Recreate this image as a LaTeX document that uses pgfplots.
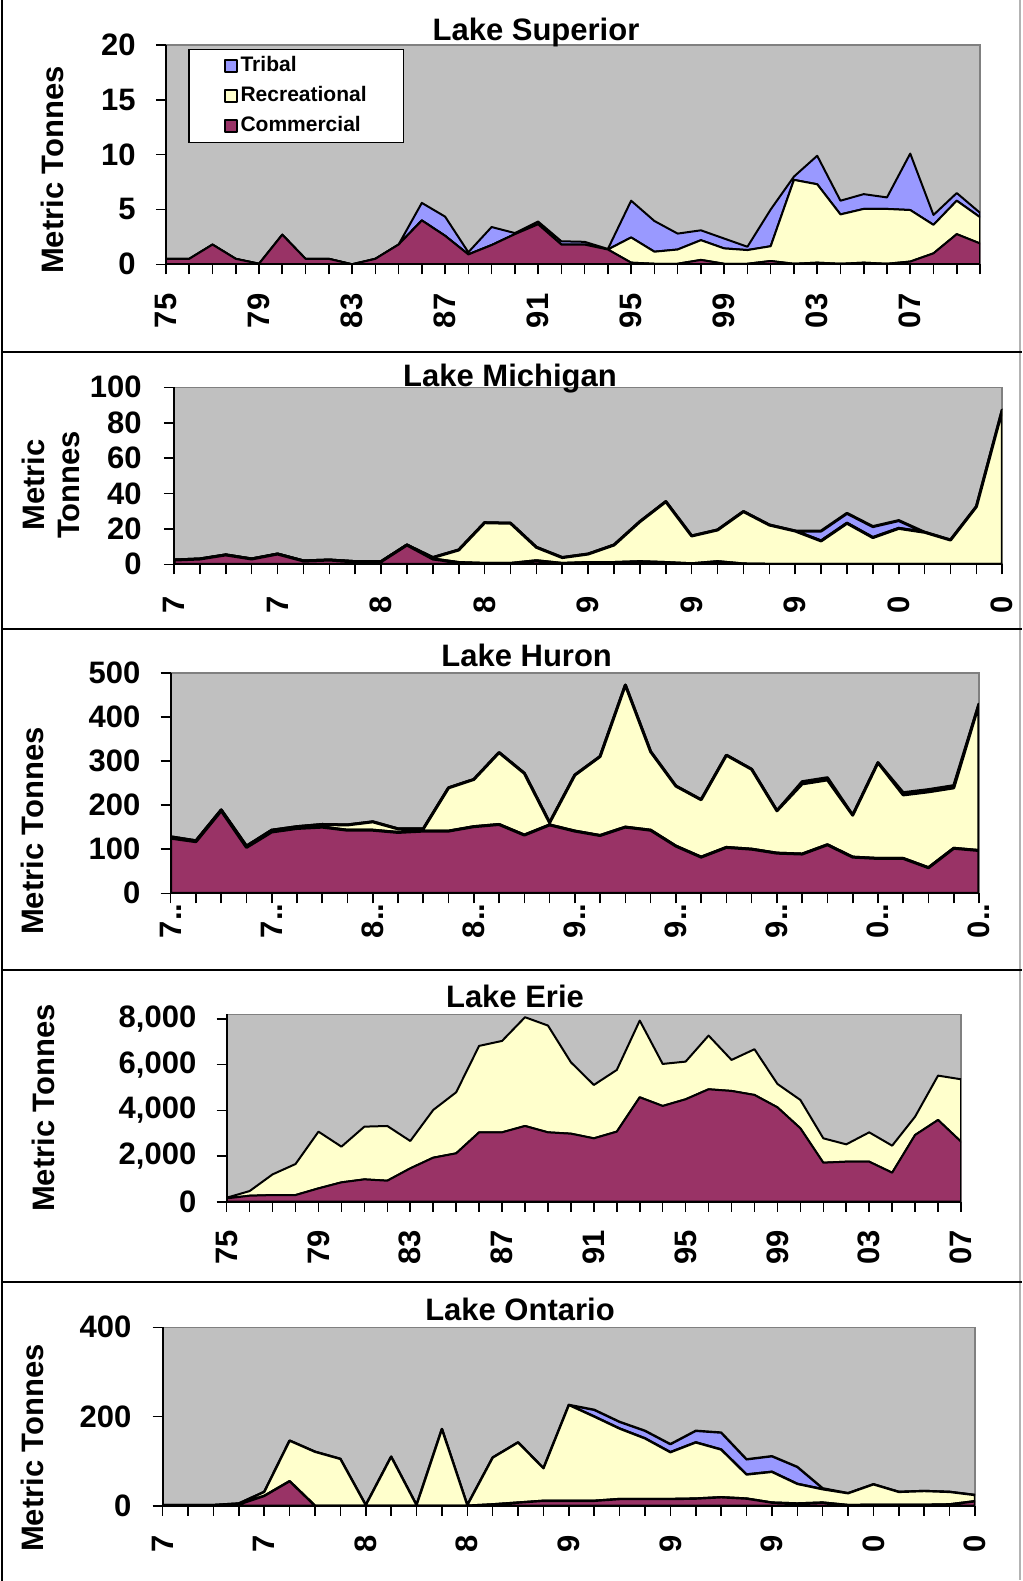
\documentclass[border=0pt]{standalone}
\usepackage{pgfplots}
\usepackage{pgfplotstable}
\pgfplotsset{compat=1.18}
\usepackage{fontspec}
\setmainfont{Liberation Sans}
\definecolor{bggray}{HTML}{C0C0C0}
\definecolor{framegray}{HTML}{808080}
\definecolor{tribal}{HTML}{9999FF}
\definecolor{recr}{HTML}{FFFFCC}
\definecolor{comm}{HTML}{993366}
\newcommand\bigf{\fontsize{15.5}{17.5}\selectfont\bfseries}
\newcommand\legf{\fontsize{10.5}{12}\selectfont\bfseries}

\pgfplotstableread{
x C R T
0 0.5 0 0
1 0.5 0 0
2 1.8 0 0
3 0.5 0 0
4 0.05 0 0
5 2.7 0 0
6 0.5 0 0
7 0.5 0 0
8 0 0 0
9 0.5 0 0
10 1.8 0 0
11 4.0 0 1.6
12 2.6 0 1.75
13 0.9 0 0.2
14 1.75 0 1.65
15 2.75 0 0.1
16 3.65 0 0.25
17 1.8 0 0.3
18 1.8 0 0.25
19 1.35 0 0.05
20 0.15 2.3 3.35
21 0.05 1.1 2.8
22 0.05 1.3 1.45
23 0.4 1.8 0.9
24 0.05 1.4 0.9
25 0.05 1.25 0.3
26 0.3 1.35 3.35
27 0.05 7.65 0.3
28 0.15 7.15 2.6
29 0.05 4.5 1.25
30 0.15 4.9 1.35
31 0.05 5.0 1.05
32 0.25 4.7 5.15
33 1.0 2.6 0.9
34 2.75 3.05 0.7
35 1.9 2.4 0.4
}\supdata

\pgfplotstableread{
x C R T
0 2.4 0 0
1 3.0 0 0
2 5.3 0 0
3 3.0 0 0
4 5.8 0 0
5 1.9 0 0
6 2.4 0 0
7 1.5 0 0
8 1.5 0 0
9 10.9 0 0
10 3.0 0.8 0
11 1.0 7.1 0
12 0.5 23.0 0
13 0.5 22.7 0
14 2.0 7.6 0
15 0.5 3.3 0
16 1.0 4.8 0
17 1.0 9.9 0
18 1.5 22.6 0
19 1.0 34.4 0
20 0.3 15.7 0
21 1.5 17.9 0
22 0.2 29.6 0
23 0 22.2 0
24 0 18.8 0
25 0 13.2 5.6
26 0 23.2 5.6
27 0 15.1 6.2
28 0 20.3 4.4
29 0 18.1 0
30 0 13.7 0
31 0 32.6 0
32 0 87.2 0
}\micdata

\pgfplotstableread{
x C R T
0 125 3 0
1 117 2 0
2 187 2 0
3 104 3 0
4 139 4 0
5 147 4 0
6 150 6 0
7 143 12 0
8 143 19 0
9 138 8 0
10 141 5 0
11 141 98 0
12 151 107 0
13 156 163 0
14 132 140 0
15 155 5 0
16 141 127 0
17 131 179 0
18 150 322 0
19 143 178 0
20 107 136 0
21 82 130 0
22 104 209 0
23 100 181 0
24 91 96 0
25 89 159 5
26 110 147 5
27 82 95 0
28 79 217 0
29 79 144 5
30 58 172 5
31 102 137 5
32 97 332 0
}\hurdata

\pgfplotstableread{
x C R T
0 146 29 0
1 263 204 0
2 292 905 0
3 292 1358 0
4 584 2482 0
5 847 1562 0
6 978 2307 0
7 920 2394 0
8 1460 1197 0
9 1927 2088 0
10 2117 2671 0
11 3036 3782 0
12 3036 4000 0
13 3314 4759 0
14 3036 4672 0
15 2978 3124 0
16 2774 2335 0
17 3066 2700 0
18 4569 3358 0
19 4190 1839 0
20 4482 1649 0
21 4920 2350 0
22 4847 1357 0
23 4672 2000 0
24 4131 1022 0
25 3212 1241 0
26 1708 1066 0
27 1752 759 0
28 1752 1284 0
29 1270 1183 0
30 2920 803 0
31 3577 1941 0
32 2628 2730 0
}\eridata

\pgfplotstableread{
x C R T
0 1 0.5 0
1 1 0.5 0
2 1 0.5 0
3 3 2 0
4 22 9 0
5 55 91 0
6 0 121 0
7 0 105 0
8 0 1.5 0
9 0 110 0
10 0 1.5 0
11 0 172 0
12 0 1.5 0
13 3 105 0
14 7 135 0
15 11 73 0
16 11 215 0
17 11 189 15
18 15 158 15
19 15 136 17
20 15 105 18
21 16 126 26
22 19 107 38
23 16 54 34
24 7 69 35
25 5 44 38
26 7 30 2
27 1.5 26.5 0
28 2 46 0
29 2 29 0
30 2 31 0
31 3 28 0
32 10 14 0
}\ontdata

\pgfplotsset{
  lake/.style={
    scale only axis,
    anchor=north west,
    axis lines*=left,
    axis line style={black, line width=1pt},
    axis background/.style={fill=bggray, draw=framegray, line width=0.8pt},
    axis on top,
    stack plots=y,
    tick align=outside,
    major tick length=5pt,
    every tick/.style={black, line width=0.8pt},
    xmin=0, ymin=0,
    enlargelimits=false,
    ticklabel style={font=\bigf},
    /pgf/number format/assume math mode=true,
    xticklabel style={rotate=90, anchor=east, inner sep=0pt},
    yticklabel style={anchor=east, inner sep=0pt},
    scaled y ticks=false,
    every axis plot/.append style={draw=black, line join=round, mark=none},
  },
}

\begin{document}
\begin{tikzpicture}
\path[use as bounding box] (0,0) rectangle (511.5pt,-790.5pt);
% panel frames
\draw[framegray!60, line width=0.8pt] (510pt,0) -- (510pt,-790pt);
\draw[black, line width=1pt] (1pt,0) -- (1pt,-790.5pt);
\foreach \yy in {176.2,314.5,485,641} {\draw[black, line width=1pt] (1pt,-\yy pt) -- (511pt,-\yy pt);}

% ---------- Lake Superior ----------
\begin{axis}[lake, at={(83pt,-22.5pt)}, width=407pt, height=109.65pt,
  xmax=35, ymax=20, ytick={0,5,10,15,20},
  xtick={0,...,35},
  xticklabels={75,,,,79,,,,83,,,,87,,,,91,,,,95,,,,99,,,,03,,,,07,,,},
  xticklabel style={xshift=-9.5pt}, yticklabel style={xshift=-10pt},
  every axis plot/.append style={line width=1pt},
  reverse legend,
  legend image code/.code={\draw[#1, draw=black, line width=0.7pt] (0pt,-3pt) rectangle (6pt,3pt);},
  legend style={at={(0.0276,0.982)}, anchor=north west, draw=black, line width=0.7pt, fill=white,
    font=\legf, inner xsep=17.5pt, inner ysep=3pt, row sep=4.5pt, column sep=1.5pt,
    nodes={inner sep=0pt, text height=8pt, text depth=2.5pt}},
]
\addplot[fill=comm] table[x=x,y=C]{\supdata} \closedcycle;
\addlegendentry{\makebox[64pt][l]{Commercial}}
\addplot[fill=recr] table[x=x,y=R]{\supdata} \closedcycle;
\addlegendentry{\makebox[64pt][l]{Recreational}}
\addplot[fill=tribal] table[x=x,y=T]{\supdata} \closedcycle;
\addlegendentry{\makebox[64pt][l]{Tribal}}
\end{axis}
\node[font=\bigf, anchor=base] at (268pt,-20.35pt) {Lake Superior};
\node[font=\bigf, rotate=90] at (26pt,-85pt) {Metric Tonnes};

% ---------- Lake Michigan ----------
\begin{axis}[lake, at={(87pt,-193.65pt)}, width=414.15pt, height=88.5pt,
  xmax=32, ymax=100, ytick={0,20,...,100},
  xtick={0,...,32},
  xticklabels={7,,,,7,,,,8,,,,8,,,,9,,,,9,,,,9,,,,0,,,,0},
  xticklabel style={xshift=-11pt}, yticklabel style={xshift=-11pt},
  every axis plot/.append style={line width=1.5pt},
]
\addplot[fill=comm] table[x=x,y=C]{\micdata} \closedcycle;
\addplot[fill=recr] table[x=x,y=R]{\micdata} \closedcycle;
\addplot[fill=tribal] table[x=x,y=T]{\micdata} \closedcycle;
\end{axis}
\node[font=\bigf, anchor=base] at (255pt,-193.35pt) {Lake Michigan};
\node[font=\bigf, rotate=90, align=center] at (25.4pt,-242.5pt) {Metric\\Tonnes};

% ---------- Lake Huron ----------
\begin{axis}[lake, at={(85.35pt,-336.35pt)}, width=404.15pt, height=110.3pt,
  xmax=32, ymax=500, ytick={0,100,...,500},
  xtick={0,...,32},
  xticklabels={7..,,,,7..,,,,8..,,,,8..,,,,9..,,,,9..,,,,9..,,,,0..,,,,0..},
  xticklabel style={xshift=0pt}, yticklabel style={xshift=-10pt},
  every axis plot/.append style={line width=1.5pt},
]
\addplot[fill=comm] table[x=x,y=C]{\hurdata} \closedcycle;
\addplot[fill=recr] table[x=x,y=R]{\hurdata} \closedcycle;
\addplot[fill=tribal] table[x=x,y=T]{\hurdata} \closedcycle;
\end{axis}
\node[font=\bigf, anchor=base] at (263.35pt,-333.35pt) {Lake Huron};
\node[font=\bigf, rotate=90] at (16.25pt,-415.5pt) {Metric Tonnes};

% ---------- Lake Erie ----------
\begin{axis}[lake, at={(113.35pt,-507.15pt)}, width=367.15pt, height=93.7pt,
  xmax=32, ymax=8200, ytick={0,2000,4000,6000,8000},
  yticklabels={0,{2,000},{4,000},{6,000},{8,000}},
  xtick={0,...,32},
  xticklabels={75,,,,79,,,,83,,,,87,,,,91,,,,95,,,,99,,,,03,,,,07},
  xticklabel style={xshift=-9pt}, yticklabel style={xshift=-10pt},
  every axis plot/.append style={line width=1pt},
]
\addplot[fill=comm] table[x=x,y=C]{\eridata} \closedcycle;
\addplot[fill=recr] table[x=x,y=R]{\eridata} \closedcycle;
\end{axis}
\node[font=\bigf, anchor=base] at (257.5pt,-503.5pt) {Lake Erie};
\node[font=\bigf, rotate=90] at (21.5pt,-554pt) {Metric Tonnes};

% ---------- Lake Ontario ----------
\begin{axis}[lake, at={(81.35pt,-663.65pt)}, width=406.15pt, height=89.2pt,
  xmax=32, ymax=400, ytick={0,200,400},
  xtick={0,...,32},
  xticklabels={7,,,,7,,,,8,,,,8,,,,9,,,,9,,,,9,,,,0,,,,0},
  xticklabel style={xshift=-9.5pt}, yticklabel style={xshift=-10.5pt},
  every axis plot/.append style={line width=1.2pt},
]
\addplot[fill=comm] table[x=x,y=C]{\ontdata} \closedcycle;
\addplot[fill=recr] table[x=x,y=R]{\ontdata} \closedcycle;
\addplot[fill=tribal] table[x=x,y=T]{\ontdata} \closedcycle;
\end{axis}
\node[font=\bigf, anchor=base] at (260pt,-660pt) {Lake Ontario};
\node[font=\bigf, rotate=90] at (16.25pt,-724pt) {Metric Tonnes};
\end{tikzpicture}
\end{document}
